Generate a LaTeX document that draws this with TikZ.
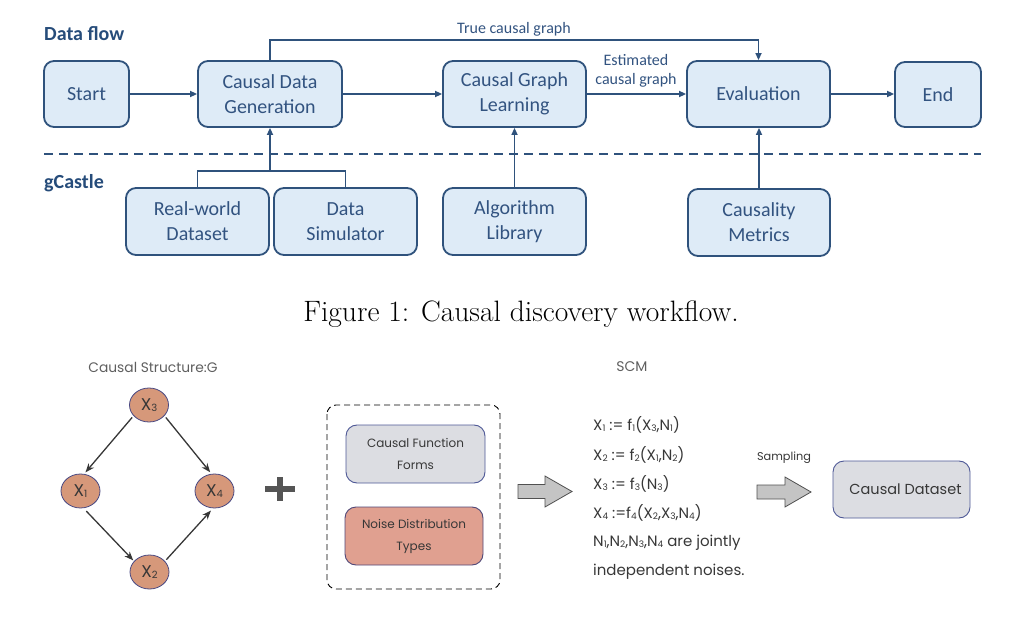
\documentclass[tikz,border=0pt]{standalone}
\usepackage{fontspec}
\usetikzlibrary{arrows.meta,calc,shapes.geometric}
\newfontfamily\carl{Carlito}
\newfontfamily\geo{Poppins}
\definecolor{boxfill}{RGB}{222,235,247}
\definecolor{boxline}{RGB}{47,82,124}
\definecolor{boxtext}{RGB}{50,83,128}
\definecolor{hdr}{RGB}{38,76,122}
\definecolor{circfill}{RGB}{214,152,122}
\definecolor{circline}{RGB}{72,72,130}
\definecolor{grayfill}{RGB}{220,221,226}
\definecolor{grayline}{RGB}{78,88,150}
\definecolor{noisefill}{RGB}{224,160,144}
\definecolor{noiseline}{RGB}{80,72,120}
\definecolor{gtext}{RGB}{55,55,55}
\definecolor{ltext}{RGB}{95,95,95}
\definecolor{bigarrow}{RGB}{196,196,196}
\newcommand\ssb[1]{\raisebox{-0.05ex}{\fontsize{9}{9}\selectfont #1}}
\newcommand\csb[1]{\raisebox{-0.05ex}{\fontsize{10}{10}\selectfont #1}}
\begin{document}
\begin{tikzpicture}[x=1pt,y=-1pt,
  flow/.style={draw=boxline, line width=1.8pt, fill=boxfill, rounded corners=10pt,
    text=boxtext, font=\carl\fontsize{20}{25}\selectfont, align=center, inner sep=0pt},
  arr/.style={draw=boxline, line width=1.6pt, -{Triangle[length=7pt,width=6pt]}},
  lbl/.style={text=boxtext, font=\carl\fontsize{16}{19}\selectfont, align=center, inner sep=0pt},
  hdrlbl/.style={text=hdr, font=\carl\bfseries\fontsize{20}{24}\selectfont, inner sep=0pt, anchor=west},
  circ/.style={ellipse, draw=circline, line width=0.8pt, fill=circfill, minimum width=39pt,
    minimum height=34pt, inner sep=0pt, text=gtext, font=\geo\fontsize{17}{17}\selectfont},
  garr/.style={draw=gtext, line width=1.3pt, -{Stealth[length=9pt,width=7pt]}},
  gbox/.style={draw=grayline, line width=0.9pt, fill=grayfill, rounded corners=11pt, text=gtext,
    align=center, inner sep=0pt, font=\geo\fontsize{12}{22}\selectfont},
  eq/.style={anchor=west, text=gtext, inner sep=0pt, font=\geo\fontsize{15}{18}\selectfont},
]
\useasboundingbox (0,0) rectangle (1025,617);

% ---------- top: data flow ----------
\node[hdrlbl] (df) at (44,34) {Data flow};
\node[hdrlbl] (gc) at (44,183) {gCastle};

\node[flow, minimum width=85pt, minimum height=66pt] (start) at (86.5,94) {Start};
\node[flow, minimum width=144pt, minimum height=66pt] (cdg) at (270,94) {Causal Data\\Generation};
\node[flow, minimum width=143pt, minimum height=66pt] (cgl) at (514.5,94) {Causal Graph\\Learning};
\node[flow, minimum width=143pt, minimum height=66pt] (eval) at (758.5,94) {Evaluation};
\node[flow, minimum width=86pt, minimum height=65pt] (end) at (938,94.5) {End};

\node[flow, minimum width=143pt, minimum height=67pt] (rw) at (197.5,221.5) {Real-world\\Dataset};
\node[flow, minimum width=143pt, minimum height=67pt] (ds) at (345.5,221.5) {Data\\Simulator};
\node[flow, minimum width=143pt, minimum height=67pt] (al) at (514.5,221.5) {Algorithm\\Library};
\node[flow, minimum width=142pt, minimum height=67pt] (cm) at (759,222.5) {Causality\\Metrics};

\draw[boxline, line width=1.8pt, dash pattern=on 9pt off 6pt] (44,154) -- (981,154);

\draw[arr] (start) -- (cdg);
\draw[arr] (cdg) -- (cgl);
\draw[arr] (cgl) -- (eval);
\draw[arr] (eval.east) -- (end.west |- eval.east);

\coordinate (tg) at (514,40);
\draw[arr] (cdg.north) -- (cdg.north |- tg) -| (eval.north);
\node[lbl] (tgl) at (514,29) {True causal graph};
\node[lbl] (egl) at (636,71) {Estimated\\causal graph};

\coordinate (mg) at (270,171);
\draw[boxline, line width=1.6pt] (rw.north) |- (mg) -| (ds.north);
\draw[arr] (mg) -- (cdg.south);
\draw[arr] (al.north) -- (cgl.south);
\draw[arr] (cm.north) -- (cm.north |- eval.south);

% ---------- caption ----------
\node[inner sep=0pt, font=\fontsize{29.5}{34}\selectfont] (cap) at (521,314) {Figure 1: Causal discovery workflow.};

% ---------- bottom: causal structure ----------
\node[inner sep=0pt, text=ltext, font=\geo\fontsize{13.8}{16}\selectfont] (csg) at (153,367) {Causal Structure:G};

\node[circ] (x3) at (149,405) {X\csb{3}};
\node[circ] (x1) at (80.5,491) {X\csb{1}};
\node[circ] (x4) at (214.5,491) {X\csb{4}};
\node[circ] (x2) at (149.5,572) {X\csb{2}};

\draw[garr, shorten <=2pt, shorten >=2pt] (x3.215) -- (x1.78);
\draw[garr, shorten <=2pt, shorten >=2pt] (x3.-35) -- (x4.100);
\draw[garr, shorten <=4pt, shorten >=1pt] (x1.-80) -- (x2.145);
\draw[garr, shorten <=2pt, shorten >=3pt] (x2.35) -- (x4.-95);

% plus
\draw[draw={rgb,255:red,85;green,85;blue,85}, line width=6pt] (265,489) -- (295,489);
\draw[draw={rgb,255:red,85;green,85;blue,85}, line width=6pt] (280,477) -- (280,501);

% dashed container
\draw[black, line width=0.9pt, dash pattern=on 6pt off 4pt, rounded corners=9pt] (327,405) rectangle (500,589);
\node[gbox, minimum width=139pt, minimum height=58pt] (cff) at (415.5,454) {Causal Function\\Forms};
\node[gbox, fill=noisefill, draw=noiseline, minimum width=138pt, minimum height=58pt] (ndt) at (414,536) {Noise Distribution\\Types};

% big arrow 1
\draw[draw={rgb,255:red,80;green,80;blue,80}, line width=0.8pt, fill=bigarrow]
  (518,484.5) -- (545,484.5) -- (545,476) -- (572,491.5) -- (545,507) -- (545,498.5) -- (518,498.5) -- cycle;

% SCM
\node[inner sep=0pt, text=ltext, font=\geo\fontsize{14}{16}\selectfont] (scm) at (632,367) {SCM};
\node[eq] (e1) at (593,425) {X\ssb{1} := f\ssb{1}(X\ssb{3},N\ssb{1})};
\node[eq] (e2) at (593,455) {X\ssb{2} := f\ssb{2}(X\ssb{1},N\ssb{2})};
\node[eq] (e3) at (593,484) {X\ssb{3} := f\ssb{3}(N\ssb{3})};
\node[eq] (e4) at (593,513) {X\ssb{4} :=f\ssb{4}(X\ssb{2},X\ssb{3},N\ssb{4})};
\node[eq] (e5) at (593,543) {N\ssb{1},N\ssb{2},N\ssb{3},N\ssb{4} are jointly};
\node[eq] (e6) at (593,572) {independent noises.};

\node[inner sep=0pt, text=gtext, font=\geo\fontsize{11.3}{13}\selectfont] (samp) at (784,458) {Sampling};
% big arrow 2
\draw[draw={rgb,255:red,80;green,80;blue,80}, line width=0.8pt, fill=bigarrow]
  (757,485) -- (785,485) -- (785,477) -- (811,492) -- (785,507) -- (785,499) -- (757,499) -- cycle;

\node[gbox, minimum width=137pt, minimum height=57pt, font=\geo\fontsize{14.5}{16}\selectfont] (cd) at (901.5,489.5) {\hspace{8pt}Causal Dataset};
\end{tikzpicture}
\end{document}
